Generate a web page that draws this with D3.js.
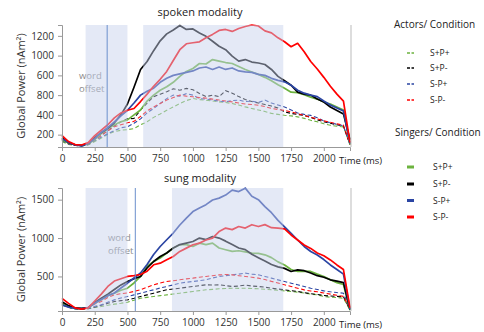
<!DOCTYPE html>
<html><head><meta charset="utf-8">
<script src="https://cdn.jsdelivr.net/npm/d3@7"></script>
<style>body{margin:0;background:#fff}svg{display:block}text{font-family:"Open Sans",sans-serif}</style>
</head><body>
<script>
const times = d3.range(0, 2201, 50);
const conditions = ["S+P+","S+P-","S-P+","S-P-"];
const colors = ["#6cb33f","#000000","#2b45a3","#ff0000"];
const xTicks = [0,250,500,750,1000,1250,1500,1750,2000];

// spoken modality
const spokenYTicks = [200,400,600,800,1000,1200];
const spokenYLabels = ["200","400","800","600","1000","1200"];
const spokenSingers = {
 "S+P+":[145,115,100,95,105,150,210,260,300,330,350,400,450,540,600,650,685,730,790,840,870,920,915,960,945,930,920,890,860,835,810,780,745,705,670,630,625,605,580,560,530,510,480,450,100],
 "S+P-":[170,120,95,90,110,170,220,265,320,400,510,680,860,940,1050,1150,1220,1260,1305,1265,1270,1230,1195,1145,1095,1060,995,945,960,935,925,910,860,790,745,700,630,610,600,560,530,480,445,410,150],
 "S-P+":[160,120,95,85,110,160,225,270,330,390,447,520,600,640,670,730,770,800,815,830,845,875,885,860,885,860,875,845,835,830,810,800,770,750,735,700,650,620,600,585,540,500,470,440,110],
 "S-P-":[190,130,100,95,120,190,245,300,370,420,447,465,535,610,690,760,840,950,1060,1120,1130,1140,1180,1215,1255,1265,1245,1275,1295,1310,1300,1250,1230,1180,1140,1090,1125,1040,940,865,780,690,610,540,120]
};
const spokenActors = {
 "S+P+":[130,100,90,85,95,130,165,205,230,245,250,262,300,330,375,410,447,480,515,545,566,555,549,540,532,525,515,500,481,465,450,435,415,405,396,390,380,365,345,330,310,295,285,278,100],
 "S+P-":[150,110,95,90,100,150,195,240,290,330,360,365,450,520,585,610,635,665,650,668,655,617,585,600,585,645,620,585,555,535,520,505,490,470,430,415,405,395,375,350,330,315,300,285,100],
 "S-P+":[140,105,90,85,100,140,175,210,240,270,280,315,360,420,465,515,565,600,590,615,600,565,560,550,540,532,545,550,535,540,525,550,520,500,480,450,420,405,395,370,340,320,305,290,100],
 "S-P-":[150,110,95,90,100,150,190,240,280,300,320,335,385,440,480,515,550,575,600,590,583,575,570,560,550,540,532,520,510,505,498,485,465,455,445,430,413,395,375,360,340,325,310,295,100]
};
// sung modality
const sungYTicks = [500,1000,1500];
const sungYLabels = ["500","1000","1500"];
const sungSingers = {
 "S+P+":[150,110,85,80,90,150,195,250,282,320,347,415,500,630,695,740,805,870,913,915,890,934,915,935,870,848,826,835,820,804,800,782,745,690,650,590,565,570,565,530,500,456,420,395,60],
 "S+P-":[170,120,90,85,95,160,215,270,330,390,434,470,500,610,695,760,805,870,915,935,955,1000,980,1020,1000,960,915,870,850,790,745,700,655,625,605,565,585,575,545,510,490,456,440,420,70],
 "S-P+":[130,100,85,80,95,150,200,250,285,350,412,480,545,655,785,890,978,1065,1170,1260,1345,1390,1435,1495,1520,1560,1625,1605,1650,1545,1500,1410,1330,1230,1145,1060,975,890,825,780,720,650,590,530,70],
 "S-P-":[215,150,90,75,90,180,270,370,440,470,500,510,525,568,652,673,717,760,826,869,913,934,975,1000,1085,1130,1110,1150,1130,1174,1150,1175,1135,1130,1120,1040,975,910,865,805,770,715,650,590,90]
};
const sungActors = {
 "S+P+":[130,95,80,75,80,95,108,125,139,150,165,190,217,228,239,250,260,271,282,293,304,315,326,332,339,343,347,345,347,343,339,333,326,320,312,304,295,285,270,260,239,230,225,217,60],
 "S+P-":[140,100,80,75,80,100,125,150,173,185,195,215,239,260,282,305,326,337,347,358,369,380,391,388,391,380,369,375,388,375,369,360,347,336,326,315,304,290,275,265,252,245,240,235,70],
 "S-P+":[140,100,80,75,85,110,130,165,195,220,239,260,282,305,326,350,369,390,412,425,434,445,456,480,500,510,521,530,543,530,521,500,478,455,434,412,391,370,347,330,312,300,290,282,80],
 "S-P-":[150,110,85,80,95,140,175,225,260,275,285,305,326,360,391,415,434,445,456,468,478,490,500,510,521,525,521,510,500,490,478,460,436,415,391,370,347,325,310,300,285,270,255,240,80]
};

const W = 484, H = 332;
const svg = d3.select("body").append("svg").attr("width", W).attr("height", H);

function panel(cfg) {
  const x = d3.scaleLinear().domain([0, 2200]).range([62, 350]);
  const y = d3.scaleLinear().domain(cfg.yDomain).range([cfg.bottom, cfg.top]);
  const g = svg.append("g");

  g.append("text").attr("x", 200).attr("y", cfg.titleY).attr("text-anchor", "middle")
    .attr("font-size", 11).attr("fill", "#222").text(cfg.title);
  g.append("text").attr("transform", `translate(25,${(cfg.top+cfg.bottom)/2}) rotate(-90)`)
    .attr("text-anchor", "middle").attr("font-size", 11).attr("fill", "#333")
    .text("Global Power (nAm²)");

  // word offset text (under the shading)
  const wo = g.append("text").attr("font-size", 9.5).attr("fill", "#8a8a8a");
  wo.append("tspan").attr("x", cfg.woX).attr("y", cfg.woY).text("word");
  wo.append("tspan").attr("x", cfg.woX).attr("y", cfg.woY + 13).text("offset");

  const line = d3.line().x((d, i) => x(times[i])).y(d => y(d));
  conditions.forEach((c, k) => {
    g.append("path").datum(cfg.actors[c]).attr("d", line).attr("fill", "none")
      .attr("stroke", colors[k]).attr("stroke-width", 1.1).attr("stroke-dasharray", "4,2.5");
  });
  conditions.forEach((c, k) => {
    g.append("path").datum(cfg.singers[c]).attr("d", line).attr("fill", "none")
      .attr("stroke", colors[k]).attr("stroke-width", 1.7).attr("stroke-linejoin", "round");
  });

  // shaded windows drawn over the lines
  cfg.shades.forEach(s => {
    g.append("rect").attr("x", x(s[0])).attr("y", cfg.top)
      .attr("width", x(s[1]) - x(s[0])).attr("height", cfg.bottom - cfg.top)
      .attr("fill", "rgb(198,208,236)").attr("fill-opacity", 0.47);
  });
  g.append("line").attr("x1", x(cfg.offset)).attr("x2", x(cfg.offset))
    .attr("y1", cfg.top).attr("y2", cfg.bottom).attr("stroke", "#6b8fcc").attr("stroke-width", 1);

  // axes
  const xa = g.append("g").attr("transform", `translate(0,${cfg.bottom})`)
    .call(d3.axisBottom(x).tickValues(xTicks).tickFormat(d3.format("d")).tickSize(4).tickPadding(4));
  xa.select(".domain").attr("stroke", "#999");
  xa.selectAll(".tick line").attr("stroke", "#999");
  xa.selectAll("text").attr("font-size", 10).attr("fill", "#333").attr("font-family", "Open Sans, sans-serif");
  g.append("text").attr("x", 339).attr("y", cfg.bottom + 17).attr("font-size", 9.5).attr("fill", "#222").text("Time (ms)");

  const ya = g.append("g").attr("transform", "translate(62,0)")
    .call(d3.axisLeft(y).tickValues(cfg.yTicks).tickFormat((d, i) => cfg.yLabels[i]).tickSize(4).tickPadding(4));
  ya.select(".domain").attr("stroke", "#999");
  ya.selectAll(".tick line").attr("stroke", "#999");
  ya.selectAll("text").attr("font-size", 10).attr("fill", "#333").attr("font-family", "Open Sans, sans-serif");
  g.append("line").attr("x1", 351).attr("x2", 351).attr("y1", cfg.top).attr("y2", cfg.bottom)
    .attr("stroke", "#bbb").attr("stroke-width", 1);
}

panel({title: "spoken modality", titleY: 16, top: 25, bottom: 147, yDomain: [75, 1310],
  yTicks: spokenYTicks, yLabels: spokenYLabels, singers: spokenSingers, actors: spokenActors,
  shades: [[180, 500], [620, 1690]], offset: 345, woX: 79, woY: 79});
panel({title: "sung modality", titleY: 182, top: 188, bottom: 311, yDomain: [50, 1652],
  yTicks: sungYTicks, yLabels: sungYLabels, singers: sungSingers, actors: sungActors,
  shades: [[180, 500], [840, 1690]], offset: 560, woX: 108, woY: 241});

// legends
const leg = svg.append("g");
leg.append("text").attr("x", 394).attr("y", 28).attr("font-size", 10).attr("fill", "#222").text("Actors/ Condition");
conditions.forEach((c, k) => {
  const yy = [53, 68, 84, 100][k];
  leg.append("line").attr("x1", 407).attr("x2", 414).attr("y1", yy).attr("y2", yy)
    .attr("stroke", colors[k]).attr("stroke-width", 1.3).attr("stroke-dasharray", "3,1.5");
  leg.append("text").attr("x", 430).attr("y", yy + 3).attr("font-size", 8.5).attr("fill", "#222").text(c);
});
leg.append("text").attr("x", 395).attr("y", 136).attr("font-size", 10).attr("fill", "#222").text("Singers/ Condition");
conditions.forEach((c, k) => {
  const yy = [167, 184, 200.5, 217][k];
  leg.append("line").attr("x1", 407).attr("x2", 414).attr("y1", yy).attr("y2", yy)
    .attr("stroke", colors[k]).attr("stroke-width", 3);
  leg.append("text").attr("x", 433).attr("y", yy + 3).attr("font-size", 8.5).attr("fill", "#222").text(c);
});
</script>
</body></html>
